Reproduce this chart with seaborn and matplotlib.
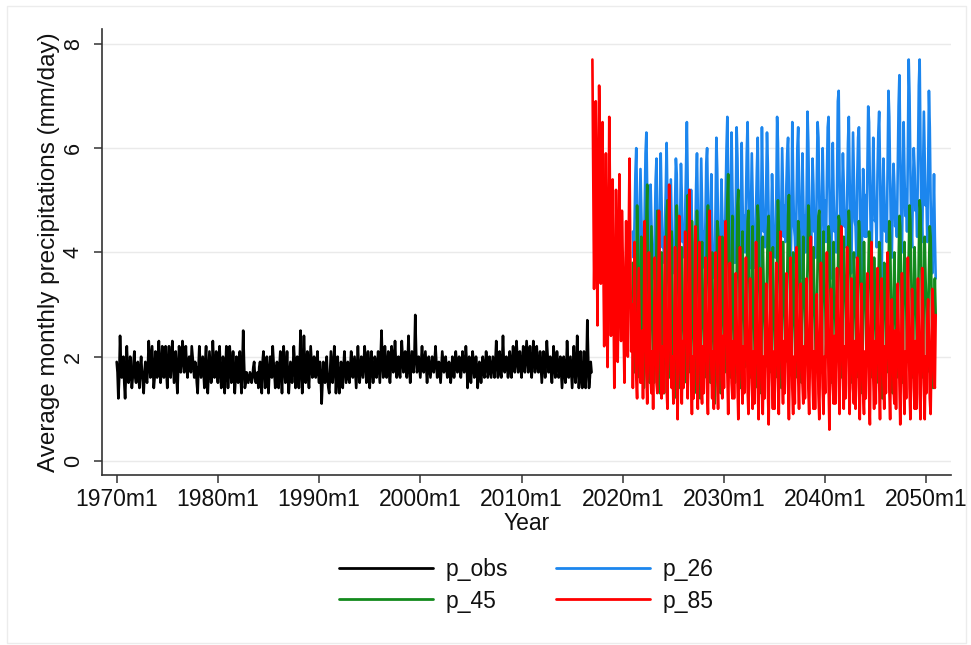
import numpy as np
import pandas as pd
import matplotlib
matplotlib.use("Agg")
import matplotlib.pyplot as plt
import seaborn as sns
from matplotlib.patches import Rectangle
from matplotlib.lines import Line2D

# ---------------- data (monthly, mm/day) ----------------
obs_start = 1970   # p_obs: 1970m1 .. 2016m12
p_obs = [
    1.9,1.7,1.2,1.6,2.4,1.9,1.6,1.7,2.0,1.5,1.2,1.7,
    2.2,1.8,1.5,1.6,2.0,1.7,1.4,1.6,1.9,2.1,1.6,1.5,
    1.7,1.9,1.6,1.4,1.8,2.0,1.7,1.5,1.3,1.7,1.9,1.6,
    1.5,1.8,2.3,2.0,1.6,1.9,2.2,1.8,1.4,1.6,2.1,1.9,
    1.6,2.0,2.3,1.9,1.5,1.7,2.2,2.0,1.6,1.8,2.2,1.7,
    1.4,1.9,2.2,1.8,1.6,2.0,2.3,1.9,1.5,1.8,2.1,1.6,
    1.3,1.8,2.2,2.0,1.7,1.9,2.3,2.1,1.7,1.9,2.2,1.8,
    1.6,1.9,2.0,1.8,1.7,2.2,2.0,1.8,1.6,1.9,1.8,1.5,
    1.3,1.8,2.2,1.9,1.6,1.8,2.0,1.7,1.4,1.9,2.2,1.6,
    1.3,1.7,2.1,1.8,1.5,1.7,2.3,1.9,1.6,1.8,2.1,1.7,
    1.5,1.9,2.2,1.7,1.4,1.6,2.0,1.8,1.3,1.7,2.2,1.8,
    1.4,1.7,2.2,1.9,1.5,1.6,2.1,1.7,1.3,1.6,2.0,1.8,
    1.5,1.7,2.1,1.6,1.3,1.8,2.5,1.9,1.4,1.5,1.7,1.6,
    1.5,1.6,1.7,1.6,1.5,1.6,1.8,1.9,1.6,1.5,1.6,1.7,
    1.4,1.8,1.9,1.7,1.3,1.9,2.1,1.8,1.4,1.7,2.0,1.6,
    1.3,1.7,2.0,1.8,1.6,2.2,1.9,1.7,1.4,1.6,1.9,1.5,
    1.4,1.8,2.1,1.7,1.3,1.9,2.2,1.8,1.5,1.7,2.1,1.6,
    1.3,1.6,1.9,1.7,1.5,1.8,2.2,1.9,1.4,1.8,2.0,1.7,
    1.4,1.9,2.5,1.8,1.3,1.7,2.4,1.9,1.5,1.8,2.1,1.6,
    1.4,1.8,2.2,1.9,1.6,1.7,2.0,1.8,1.6,1.8,2.1,1.7,
    1.5,1.9,1.6,1.1,1.5,1.9,1.7,1.5,1.8,2.0,1.6,1.4,
    1.3,1.7,2.1,1.8,1.5,1.8,2.2,1.9,1.3,1.7,2.0,1.6,
    1.3,1.6,1.9,1.7,1.4,1.8,2.1,1.8,1.5,1.7,1.9,1.6,
    1.5,1.8,2.1,1.9,1.6,1.8,2.0,1.7,1.4,1.8,2.2,1.8,
    1.5,1.7,2.0,1.8,1.6,1.9,2.2,1.9,1.5,1.7,2.1,1.7,
    1.4,1.8,2.1,1.8,1.5,1.7,2.0,1.9,1.6,1.8,2.1,1.8,
    1.5,2.0,2.5,1.9,1.6,1.8,2.2,1.9,1.6,1.7,2.1,1.7,
    1.5,1.8,2.2,2.0,1.7,1.9,2.3,1.9,1.6,1.8,2.0,1.7,
    1.6,1.9,2.3,2.0,1.7,1.8,2.1,1.9,1.6,1.9,2.4,1.8,
    1.5,1.8,2.1,1.9,1.7,2.0,2.8,2.1,1.7,1.8,2.0,1.8,
    1.6,1.9,2.2,1.9,1.7,1.9,2.1,1.8,1.5,1.8,2.0,1.8,
    1.6,1.8,2.0,1.8,1.7,1.9,2.2,1.9,1.6,1.7,1.9,1.7,
    1.5,1.8,2.1,1.9,1.7,1.8,2.0,1.8,1.6,1.7,1.9,1.7,
    1.5,1.7,2.0,1.8,1.6,1.8,2.1,1.9,1.7,1.8,2.0,1.8,
    1.6,1.8,2.1,1.9,1.7,1.8,2.2,1.9,1.4,1.8,2.0,1.7,
    1.5,1.8,2.1,1.9,1.6,1.7,2.0,1.8,1.4,1.7,1.9,1.7,
    1.5,1.7,2.0,1.8,1.6,1.8,2.1,1.9,1.6,1.7,2.0,1.8,
    1.6,1.8,2.0,1.8,1.6,1.9,2.3,1.9,1.6,1.8,2.1,1.7,
    1.6,1.9,2.4,1.9,1.7,1.8,2.0,1.8,1.6,1.8,2.1,1.8,
    1.6,1.9,2.2,1.9,1.7,1.9,2.3,2.0,1.7,1.8,2.1,1.8,
    1.6,1.9,2.2,1.9,1.7,2.0,2.3,2.0,1.7,1.9,2.2,1.8,
    1.6,1.9,2.3,2.0,1.7,1.9,2.2,1.9,1.7,1.8,2.1,1.8,
    1.5,1.8,2.1,1.9,1.6,1.9,2.3,2.0,1.7,1.8,2.0,1.7,
    1.5,1.8,2.2,1.9,1.6,1.8,2.1,1.9,1.6,1.7,2.0,1.7,
    1.4,1.7,2.0,1.8,1.5,1.7,2.3,1.9,1.6,1.8,2.0,1.7,
    1.4,1.8,2.2,1.8,1.5,1.8,2.4,1.9,1.4,1.7,2.1,1.6,
    1.4,1.7,2.1,1.7,1.4,1.8,2.7,2.0,1.4,1.6,1.9,1.7,
]

p85_start = 2017  # p_85: 2017m1 .. 2050m12
p_85 = [
    7.7,5.4,3.3,4.6,6.9,5.2,2.6,4.8,7.2,6.0,3.4,5.6,
    6.5,3.8,2.2,4.1,5.9,4.3,1.8,3.6,6.6,4.9,2.4,4.0,
    5.4,3.1,1.4,2.8,5.2,4.0,1.9,3.3,5.5,3.6,2.3,4.8,
    3.9,2.5,1.5,3.4,4.6,2.9,2.0,4.2,5.8,3.9,2.1,3.0,
    1.4,2.8,4.2,3.1,1.6,1.2,2.4,3.7,2.6,1.5,1.8,2.5,
    1.2,2.6,4.6,3.5,1.7,1.1,2.2,4.0,3.0,1.6,1.3,2.1,
    1.0,2.3,3.9,3.0,1.5,1.3,2.6,4.8,3.3,1.8,1.2,2.2,
    1.3,2.9,4.3,2.8,1.4,1.0,2.5,5.3,3.6,1.9,1.4,2.0,
    1.1,2.4,4.1,3.2,1.6,0.8,2.1,4.7,3.1,1.7,1.1,2.3,
    1.4,3.0,4.4,3.3,1.8,1.2,2.7,5.2,3.4,1.6,0.9,2.0,
    1.2,2.7,4.5,3.1,1.5,1.0,2.4,4.2,2.9,1.5,1.1,2.2,
    1.3,2.5,3.9,2.8,1.4,0.9,2.6,4.8,3.2,1.8,1.2,2.1,
    1.0,2.6,4.0,3.0,1.6,1.0,2.3,4.3,3.0,1.6,1.2,2.4,
    1.4,2.9,4.6,3.4,1.7,0.9,2.2,3.8,2.8,1.5,1.2,2.3,
    1.2,2.4,3.6,2.7,1.5,0.8,2.1,4.1,2.9,1.6,1.1,2.2,
    1.3,2.6,3.9,2.8,1.4,0.9,2.0,3.5,2.6,1.5,1.0,2.1,
    1.1,2.3,4.2,3.0,1.5,0.8,1.9,3.7,2.7,1.4,0.9,2.0,
    1.2,2.5,3.4,2.6,1.4,0.7,2.2,4.0,2.9,1.6,1.0,2.1,
    1.0,2.2,3.8,2.9,1.6,0.9,2.4,4.4,3.1,1.7,1.1,2.3,
    1.3,2.6,3.6,2.7,1.5,0.8,2.0,3.9,2.8,1.4,0.9,2.0,
    1.1,2.4,4.1,3.0,1.6,1.0,2.3,3.4,2.5,1.5,1.1,2.2,
    1.2,2.5,3.5,2.6,1.4,0.9,2.1,4.3,3.0,1.6,1.0,2.1,
    1.0,2.3,3.2,2.5,1.3,0.8,2.2,3.8,2.7,1.4,0.9,2.0,
    1.3,2.7,4.0,2.9,1.5,0.6,2.0,3.3,2.6,1.5,1.1,2.4,
    1.1,2.4,3.7,2.8,1.6,0.9,2.3,4.5,3.2,1.7,1.0,2.2,
    1.2,2.6,4.1,3.0,1.5,0.9,2.1,3.5,2.7,1.4,1.1,2.3,
    1.0,2.2,3.9,2.7,1.4,0.8,2.0,3.4,2.5,1.3,0.9,2.1,
    1.2,2.5,3.6,2.6,1.3,0.7,2.2,4.2,2.9,1.6,1.0,2.3,
    1.1,2.4,3.7,2.8,1.5,0.8,2.1,3.5,2.6,1.5,1.0,2.2,
    1.3,2.6,4.0,2.9,1.4,0.8,2.3,3.1,2.4,1.4,1.1,2.5,
    1.0,2.3,3.4,2.6,1.5,0.7,2.0,3.6,2.7,1.5,0.9,2.1,
    1.2,2.6,3.9,2.8,1.4,0.8,2.2,3.3,2.5,1.4,1.0,2.3,
    1.0,2.2,3.5,2.6,1.3,0.8,2.1,3.7,2.8,1.5,0.8,2.0,
    1.3,2.7,3.1,2.4,1.2,0.9,2.0,3.3,2.9,1.6,1.4,2.8,
]

scen_start = 2021  # p_26, p_45: 2021m1 .. 2050m12
p_26 = [
    4.4,3.9,4.6,5.5,6.0,4.9,3.8,3.5,4.5,5.6,4.8,4.0,
    4.2,3.7,4.8,5.9,6.3,5.2,4.0,3.6,4.3,5.3,4.6,3.8,
    3.9,3.5,4.4,5.4,5.8,4.6,3.7,3.3,4.7,5.9,5.0,4.1,
    4.3,3.8,4.5,5.2,6.1,5.0,3.9,3.4,4.4,5.4,4.5,3.7,
    4.0,3.6,4.9,5.8,5.5,4.4,3.6,3.2,4.6,5.7,5.1,4.2,
    4.5,3.9,4.7,5.6,6.5,5.3,4.1,3.5,4.2,5.2,4.6,3.9,
    3.8,3.4,4.3,5.3,5.9,4.8,3.7,3.3,4.5,5.8,4.9,4.0,
    4.4,3.7,4.6,5.7,6.0,4.9,3.8,3.4,4.8,5.5,4.4,3.6,
    4.1,3.5,4.8,6.2,5.6,4.5,3.6,3.2,4.3,5.4,4.7,3.9,
    4.6,4.0,5.1,6.0,6.6,5.4,4.2,3.6,4.9,6.3,5.2,4.3,
    4.3,3.8,4.9,6.4,5.8,4.7,3.9,3.5,4.6,6.1,5.0,4.1,
    4.7,4.0,5.0,5.9,6.5,5.3,4.2,3.7,4.8,5.9,5.1,4.2,
    4.2,3.7,4.8,5.6,6.2,5.0,3.9,3.6,4.7,6.4,5.3,4.4,
    4.8,4.1,5.2,6.3,5.7,4.6,3.8,3.4,4.5,5.5,4.9,4.0,
    4.4,3.9,5.0,6.6,6.1,4.9,4.0,3.7,4.9,6.0,5.2,4.3,
    4.9,4.2,5.3,5.9,6.2,5.1,4.1,3.6,4.6,6.5,5.4,4.5,
    4.3,3.8,4.9,6.0,6.4,5.2,4.0,3.5,4.8,5.9,5.0,4.2,
    4.7,4.0,5.1,6.7,6.1,4.9,3.9,3.6,4.6,5.8,5.3,4.4,
    4.5,3.9,5.3,6.5,6.2,5.0,4.1,3.8,5.0,6.0,5.2,4.3,
    5.0,4.2,5.4,6.4,6.6,5.3,4.2,3.5,4.8,6.1,5.1,4.4,
    4.6,4.0,5.2,6.9,7.1,5.5,4.3,3.9,5.0,5.9,5.3,4.5,
    4.8,4.1,5.0,6.1,6.6,5.4,4.2,3.6,4.9,6.3,5.5,4.6,
    4.5,3.9,5.4,6.2,6.4,5.2,4.1,3.4,4.7,5.6,5.0,4.3,
    5.1,4.3,5.6,6.8,6.5,5.3,4.4,3.8,5.1,6.2,5.4,4.6,
    4.7,4.1,5.5,6.3,6.7,5.6,4.3,3.5,4.9,5.8,5.2,4.4,
    4.9,4.2,5.7,7.1,6.6,5.4,4.4,3.9,5.0,5.7,5.3,4.5,
    4.8,4.3,5.6,6.8,7.4,5.9,4.6,4.0,5.3,6.5,5.5,4.7,
    5.2,4.4,5.9,7.7,7.0,5.6,4.5,4.1,5.2,6.0,5.6,4.8,
    4.9,4.3,5.8,7.2,7.7,6.0,4.7,4.2,5.4,6.7,5.8,4.9,
    5.1,4.2,5.5,7.1,6.4,5.0,4.0,3.6,4.5,5.5,4.3,3.5,
]
p_45 = [
    3.8,2.6,1.7,2.4,3.6,4.9,4.2,2.8,1.6,2.9,4.3,3.1,
    2.2,1.4,2.0,3.3,4.6,5.3,3.7,2.4,1.5,3.0,4.5,3.4,
    2.3,1.5,1.9,3.1,4.2,4.8,3.5,2.2,1.3,2.7,4.0,3.2,
    2.1,1.3,2.2,3.5,4.7,5.0,3.6,2.5,1.6,2.8,4.4,3.0,
    2.0,1.2,1.8,3.4,4.9,4.5,3.3,2.1,1.4,3.1,4.1,2.9,
    2.4,1.5,2.1,3.2,4.4,5.1,3.8,2.6,1.7,2.6,4.6,3.3,
    2.2,1.3,1.9,3.6,4.8,4.3,3.1,2.0,1.2,2.9,4.2,3.0,
    2.5,1.6,2.3,3.4,4.5,4.9,3.6,2.3,1.5,3.2,4.0,2.8,
    2.0,1.1,1.8,3.0,4.6,4.4,3.2,2.1,1.3,2.8,4.3,3.1,
    2.6,1.7,2.4,3.8,5.0,5.5,4.0,2.7,1.6,3.0,4.7,3.4,
    2.3,1.5,2.1,3.5,4.9,5.2,3.7,2.4,1.4,2.9,4.4,3.2,
    2.7,1.8,2.2,3.6,4.6,4.8,3.5,2.5,1.6,3.1,4.5,3.3,
    2.4,1.4,2.0,3.3,4.9,4.6,3.4,2.2,1.3,3.0,4.3,3.5,
    2.8,1.8,2.5,3.7,4.4,4.7,3.6,2.6,1.7,3.2,4.1,3.0,
    2.3,1.6,2.3,3.9,5.0,4.5,3.3,2.3,1.4,2.8,4.2,3.4,
    2.9,1.9,2.4,3.6,4.7,5.1,3.8,2.7,1.8,3.1,4.0,3.2,
    2.5,1.6,2.2,3.4,4.6,4.4,3.5,2.4,1.5,3.0,4.3,3.3,
    3.0,2.1,2.6,3.8,4.9,4.6,3.7,2.8,1.9,3.3,4.1,3.4,
    2.6,1.8,2.5,3.9,4.7,4.8,3.6,2.5,1.7,3.2,4.4,3.5,
    3.1,2.0,2.7,3.7,4.5,4.3,3.4,2.6,1.5,3.0,4.2,3.3,
    2.7,1.9,2.4,3.5,4.7,4.6,3.8,2.7,1.6,3.1,4.3,3.6,
    3.2,2.0,2.6,3.9,4.8,4.5,3.5,2.4,1.5,2.9,4.0,3.5,
    2.8,1.6,2.3,3.6,4.6,4.3,3.4,2.5,1.3,3.0,4.2,3.2,
    3.0,1.9,2.5,3.5,4.4,4.1,3.3,2.3,1.6,2.8,3.9,3.1,
    2.5,1.5,2.2,3.3,4.2,4.0,3.1,2.2,1.2,2.7,3.8,3.0,
    2.9,1.7,2.3,3.6,4.6,4.3,3.2,2.1,1.3,2.9,4.0,3.2,
    2.6,1.6,2.4,3.8,4.7,4.5,3.4,2.5,1.5,3.1,4.2,3.3,
    3.1,1.9,2.6,3.9,4.9,4.6,3.6,2.4,1.6,3.0,4.1,3.4,
    2.8,1.8,2.5,4.0,5.0,4.8,3.7,2.6,1.6,3.2,4.3,3.5,
    3.0,1.7,2.4,3.6,4.5,4.3,3.3,2.2,1.4,2.6,3.5,2.8,
]

series_names = ["p_obs", "p_26", "p_45", "p_85"]
series_colors = ["#000000", "#1C86EE", "#138A1D", "#FF0000"]
tick_years = [1970, 1980, 1990, 2000, 2010, 2020, 2030, 2040, 2050]
tick_labels = [f"{y}m1" for y in tick_years]
y_ticks = [0, 2, 4, 6, 8]

def monthly_frame(name, start, vals):
    t = [start + i / 12.0 for i in range(len(vals))]
    return pd.DataFrame({"t": t, "value": vals, "series": name})

df = pd.concat([
    monthly_frame("p_obs", obs_start, p_obs),
    monthly_frame("p_26", scen_start, p_26),
    monthly_frame("p_45", scen_start, p_45),
    monthly_frame("p_85", p85_start, p_85),
], ignore_index=True)

# ---------------- figure ----------------
sns.set_theme(style="white")
plt.rcParams["font.family"] = ["Liberation Sans", "DejaVu Sans"]

W, H = 971, 645
fig = plt.figure(figsize=(W / 100, H / 100), dpi=100)
fig.patch.set_facecolor("white")
ax = fig.add_axes([101.7 / W, 1 - 475 / H, (951 - 101.7) / W, (475 - 29.3) / H])

# faint outer graph-region frame
fig.patches.append(Rectangle((7 / W, 1 - 643 / H), (966 - 7) / W, (643 - 6) / H,
                             transform=fig.transFigure, fill=False,
                             edgecolor="#ececec", linewidth=1.0, zorder=0))

for y in y_ticks:
    ax.axhline(y, color="#eaeaea", linewidth=1.0, zorder=0)

sns.lineplot(data=df, x="t", y="value", hue="series", hue_order=series_names,
             palette=dict(zip(series_names, series_colors)), estimator=None,
             linewidth=1.9, ax=ax, legend=False, sort=False)

ax.set_xlim(1968.52, 2052.43)
ax.set_ylim(-0.27, 8.28)
ax.set_xticks(tick_years)
ax.set_xticklabels(tick_labels)
ax.set_yticks(y_ticks)
ax.set_yticklabels([str(v) for v in y_ticks], rotation=90, va="center")

for s in ["top", "right"]:
    ax.spines[s].set_visible(False)
for s in ["left", "bottom"]:
    ax.spines[s].set_color("#333333")
    ax.spines[s].set_linewidth(1.2)

ax.tick_params(axis="x", which="both", direction="out", length=6, width=1.1,
               color="#333333", labelsize=16.5, pad=3, labelcolor="#111111",
               bottom=True)
ax.tick_params(axis="y", which="both", direction="out", length=6, width=1.1,
               color="#333333", labelsize=15.5, pad=7, labelcolor="#111111",
               left=True)

ax.set_xlabel("Year", fontsize=16.5, labelpad=1, color="#111111")
ax.set_ylabel("Average monthly precipitations (mm/day)", fontsize=17.5,
              labelpad=2, color="#111111")

# legend: row 1 = p_obs, p_26 ; row 2 = p_45, p_85 (matplotlib fills by column)
leg_order = ["p_obs", "p_45", "p_26", "p_85"]
col = dict(zip(series_names, series_colors))
handles = [Line2D([0], [0], color=col[n], linewidth=2.0) for n in leg_order]
leg = fig.legend(handles, leg_order, loc="center", ncol=2,
                 bbox_to_anchor=(526 / W, 1 - 585.5 / H), frameon=False,
                 fontsize=16.5, handlelength=4.1, handletextpad=0.55,
                 columnspacing=2.1, labelspacing=0.35)
for t in leg.get_texts():
    t.set_color("#111111")

fig.savefig("out.png", dpi=100, facecolor="white")
